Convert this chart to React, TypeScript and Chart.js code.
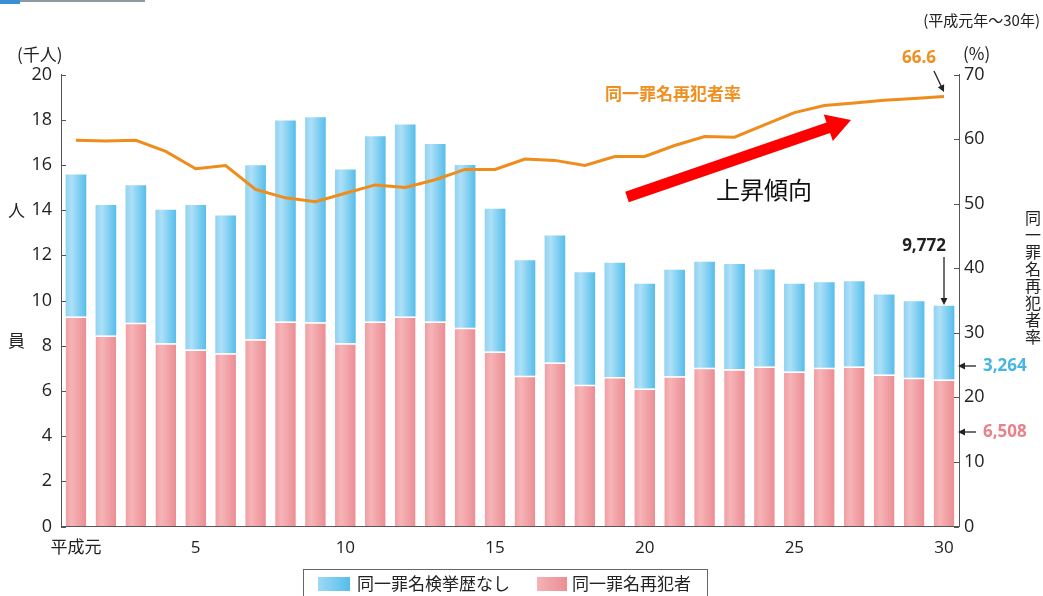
import React, { useEffect, useRef } from "react";
import { Chart, registerables } from "chart.js";

Chart.register(...registerables);

const years = ["平成元", "2", "3", "4", "5", "6", "7", "8", "9", "10", "11", "12", "13", "14", "15", "16", "17", "18", "19", "20", "21", "22", "23", "24", "25", "26", "27", "28", "29", "30"];
const xTickShown = ["平成元", "5", "10", "15", "20", "25", "30"];

// thousands of persons
const repeatOffenders = [9.29, 8.45, 9.01, 8.11, 7.83, 7.67, 8.29, 9.07, 9.04, 8.11, 9.07, 9.29, 9.07, 8.79, 7.74, 6.67, 7.26, 6.27, 6.62, 6.11, 6.65, 7.02, 6.96, 7.08, 6.86, 7.02, 7.08, 6.73, 6.58, 6.508];
const noPriorRecord = [6.29, 5.78, 6.09, 5.9, 6.4, 6.09, 7.7, 8.89, 9.07, 7.69, 8.2, 8.5, 7.86, 7.21, 6.32, 5.11, 5.62, 4.98, 5.05, 4.63, 4.71, 4.69, 4.65, 4.29, 3.88, 3.79, 3.77, 3.54, 3.39, 3.264];
// percent
const repeatRate = [59.8, 59.7, 59.8, 58.1, 55.4, 55.9, 52.2, 50.9, 50.3, 51.6, 52.9, 52.5, 53.7, 55.3, 55.3, 56.9, 56.7, 55.9, 57.3, 57.3, 59.0, 60.4, 60.3, 62.2, 64.1, 65.2, 65.6, 66.0, 66.3, 66.6];

const FONT = "'Noto Sans CJK JP', 'Noto Sans', sans-serif";
const NUMFONT = "'Open Sans', 'Noto Sans CJK JP', sans-serif";

const gradFor = (stops: [number, string][]) => (c: any) => {
  const chart = c.chart;
  const xs = chart.scales && chart.scales.x;
  if (!xs || c.dataIndex == null || !chart.chartArea) return stops[stops.length - 1][1];
  const cx = xs.getPixelForValue(c.dataIndex);
  const w = 10.5;
  const g = chart.ctx.createLinearGradient(cx - w, 0, cx + w, 0);
  stops.forEach(([o, col]) => g.addColorStop(o, col));
  return g;
};

function arrow(ctx: CanvasRenderingContext2D, x1: number, y1: number, x2: number, y2: number, color: string) {
  const dx = x2 - x1, dy = y2 - y1;
  const len = Math.hypot(dx, dy);
  const ux = dx / len, uy = dy / len;
  const hl = 7, hw = 3.5;
  ctx.save();
  ctx.strokeStyle = color;
  ctx.fillStyle = color;
  ctx.lineWidth = 1.3;
  ctx.beginPath();
  ctx.moveTo(x1, y1);
  ctx.lineTo(x2 - ux * hl * 0.8, y2 - uy * hl * 0.8);
  ctx.stroke();
  ctx.beginPath();
  ctx.moveTo(x2, y2);
  ctx.lineTo(x2 - ux * hl - uy * hw, y2 - uy * hl + ux * hw);
  ctx.lineTo(x2 - ux * hl + uy * hw, y2 - uy * hl - ux * hw);
  ctx.closePath();
  ctx.fill();
  ctx.restore();
}

const annotations = {
  id: "annotations",
  afterDraw(chart: any) {
    const ctx: CanvasRenderingContext2D = chart.ctx;
    const ys = chart.scales.y;
    const y1 = chart.scales.y1;
    const area = chart.chartArea;
    ctx.save();
    // inward tick marks
    ctx.strokeStyle = "#555";
    ctx.lineWidth = 1;
    ys.ticks.forEach((t: any) => {
      const p = Math.round(ys.getPixelForValue(t.value)) + 0.5;
      ctx.beginPath();
      ctx.moveTo(area.left, p);
      ctx.lineTo(area.left + 5, p);
      ctx.stroke();
    });
    y1.ticks.forEach((t: any) => {
      const p = Math.round(y1.getPixelForValue(t.value)) + 0.5;
      ctx.beginPath();
      ctx.moveTo(area.right - 5, p);
      ctx.lineTo(area.right, p);
      ctx.stroke();
    });

    const txt = (s: string, x: number, y: number, size: number, color: string, align: CanvasTextAlign = "left", weight = "normal", fam = FONT) => {
      ctx.font = `${weight} ${size}px ${fam}`;
      ctx.fillStyle = color;
      ctx.textAlign = align;
      ctx.textBaseline = "middle";
      ctx.fillText(s, x, y);
    };

    // top strip
    ctx.fillStyle = "#8c9aa6";
    ctx.fillRect(0, 0, 145, 2);
    ctx.fillStyle = "#3b8fd4";
    ctx.fillRect(0, 0, 20, 4);

    txt("(千人)", 17, 55, 17, "#222");
    txt("人", 8, 211, 17, "#222");
    txt("員", 8, 341, 17, "#222");
    txt("(%)", 963, 54, 17, "#222");
    txt("(平成元年～30年)", 1040, 20, 15, "#222", "right");

    // right vertical title
    const vt = "同一罪名再犯者率";
    for (let i = 0; i < vt.length; i++) {
      txt(vt[i], 1033, 218 + i * 17, 16, "#222", "center");
    }

    // line label
    txt("同一罪名再犯者率", 605, 94, 17, "#ef8f1f", "left", "bold");

    // 66.6
    txt("66.6", 919, 58, 17, "#ef8f1f", "center", "bold", NUMFONT);
    arrow(ctx, 934, 71, 944, 92, "#222");

    // 9,772
    txt("9,772", 924, 246, 17, "#222", "center", "bold", NUMFONT);
    arrow(ctx, 944, 257, 944, 305, "#222");

    // 3,264 / 6,508
    txt("3,264", 983, 366, 17, "#45b5e2", "left", "bold", NUMFONT);
    arrow(ctx, 976, 366, 958, 366, "#222");
    txt("6,508", 983, 432, 17, "#e8838b", "left", "bold", NUMFONT);
    arrow(ctx, 976, 432, 958, 432, "#222");

    // red trend arrow
    {
      const x1 = 627, yA = 197, x2 = 851, yB = 120;
      const dx = x2 - x1, dy = yB - yA;
      const len = Math.hypot(dx, dy);
      const ux = dx / len, uy = dy / len;
      const nx = -uy, ny = ux;
      const hl = 24, hw = 14, sw = 5.5;
      const bx = x2 - ux * hl, by = yB - uy * hl;
      ctx.fillStyle = "#ff0000";
      ctx.beginPath();
      ctx.moveTo(x1 + nx * sw, yA + ny * sw);
      ctx.lineTo(bx + nx * sw, by + ny * sw);
      ctx.lineTo(bx + nx * hw, by + ny * hw);
      ctx.lineTo(x2, yB);
      ctx.lineTo(bx - nx * hw, by - ny * hw);
      ctx.lineTo(bx - nx * sw, by - ny * sw);
      ctx.lineTo(x1 - nx * sw, yA - ny * sw);
      ctx.closePath();
      ctx.fill();
    }
    txt("上昇傾向", 716, 190, 24, "#111", "left");

    // legend box
    ctx.strokeStyle = "#666";
    ctx.lineWidth = 1;
    ctx.strokeRect(303.5, 569.5, 404, 40);
    const lgB = ctx.createLinearGradient(318, 0, 350, 0);
    lgB.addColorStop(0, "#9fd9f4");
    lgB.addColorStop(1, "#55bdeb");
    ctx.fillStyle = lgB;
    ctx.fillRect(318, 577, 32, 14);
    txt("同一罪名検挙歴なし", 357, 584, 17, "#222");
    const lgP = ctx.createLinearGradient(537, 0, 567, 0);
    lgP.addColorStop(0, "#f6b2b5");
    lgP.addColorStop(1, "#eb8e94");
    ctx.fillStyle = lgP;
    ctx.fillRect(537, 577, 30, 14);
    txt("同一罪名再犯者", 572, 584, 17, "#222");
    ctx.restore();
  },
};

export default function App() {
  const ref = useRef<HTMLCanvasElement | null>(null);
  useEffect(() => {
    document.body.style.margin = "0";
    const canvas = ref.current;
    if (!canvas) return;
    const chart = new Chart(canvas, {
      type: "bar",
      data: {
        labels: years,
        datasets: [
          {
            type: "line",
            label: "同一罪名再犯者率",
            data: repeatRate,
            yAxisID: "y1",
            borderColor: "#ee8c1c",
            borderWidth: 3,
            pointRadius: 0,
            tension: 0,
            order: 0,
          } as any,
          {
            type: "bar",
            label: "同一罪名再犯者",
            data: repeatOffenders,
            yAxisID: "y",
            stack: "s",
            backgroundColor: gradFor([[0, "#f09ea3"], [0.3, "#f6b4b7"], [1, "#eb8d93"]]),
            borderColor: "#ffffff",
            borderWidth: { top: 1.5, left: 0, right: 0, bottom: 0 },
            borderSkipped: false,
            barPercentage: 0.69,
            categoryPercentage: 1,
            order: 1,
          },
          {
            type: "bar",
            label: "同一罪名検挙歴なし",
            data: noPriorRecord,
            yAxisID: "y",
            stack: "s",
            backgroundColor: gradFor([[0, "#8fd2f2"], [0.3, "#ade0f7"], [1, "#55bdeb"]]),
            borderWidth: 0,
            barPercentage: 0.69,
            categoryPercentage: 1,
            order: 2,
          },
        ],
      },
      options: {
        responsive: false,
        animation: false,
        layout: { padding: { top: 74.5, left: 0, right: 0, bottom: 0 } },
        plugins: { legend: { display: false }, tooltip: { enabled: false } },
        scales: {
          x: {
            stacked: true,
            offset: true,
            grid: { display: true, drawOnChartArea: false, drawTicks: false, color: "transparent" },
            border: { display: true, color: "#555", width: 1 },
            ticks: {
              autoSkip: false,
              maxRotation: 0,
              padding: 11,
              color: "#222",
              font: { family: NUMFONT, size: 17 },
              callback: (_v: any, i: number) => (xTickShown.includes(years[i]) ? years[i] : ""),
            },
            afterFit: (s: any) => {
              s.height = 69.5;
            },
          },
          y: {
            stacked: true,
            position: "left",
            min: 0,
            max: 20,
            grid: { display: true, drawOnChartArea: false, drawTicks: false, color: "transparent" },
            border: { display: true, color: "#555", width: 1 },
            ticks: { stepSize: 2, padding: 9, color: "#222", font: { family: NUMFONT, size: 18 } },
            afterFit: (s: any) => {
              s.width = 61;
            },
          },
          y1: {
            position: "right",
            min: 0,
            max: 70,
            grid: { display: true, drawOnChartArea: false, drawTicks: false, color: "transparent" },
            border: { display: true, color: "#555", width: 1 },
            ticks: { stepSize: 10, padding: 5, color: "#222", font: { family: NUMFONT, size: 18 } },
            afterFit: (s: any) => {
              s.width = 84;
            },
          },
        },
      },
      plugins: [annotations],
    });
    return () => chart.destroy();
  }, []);
  return (
    <div style={{ position: "relative", width: 1043, height: 596, background: "#fff" }}>
      <canvas ref={ref} width={1043} height={596} style={{ display: "block" }} />
    </div>
  );
}
